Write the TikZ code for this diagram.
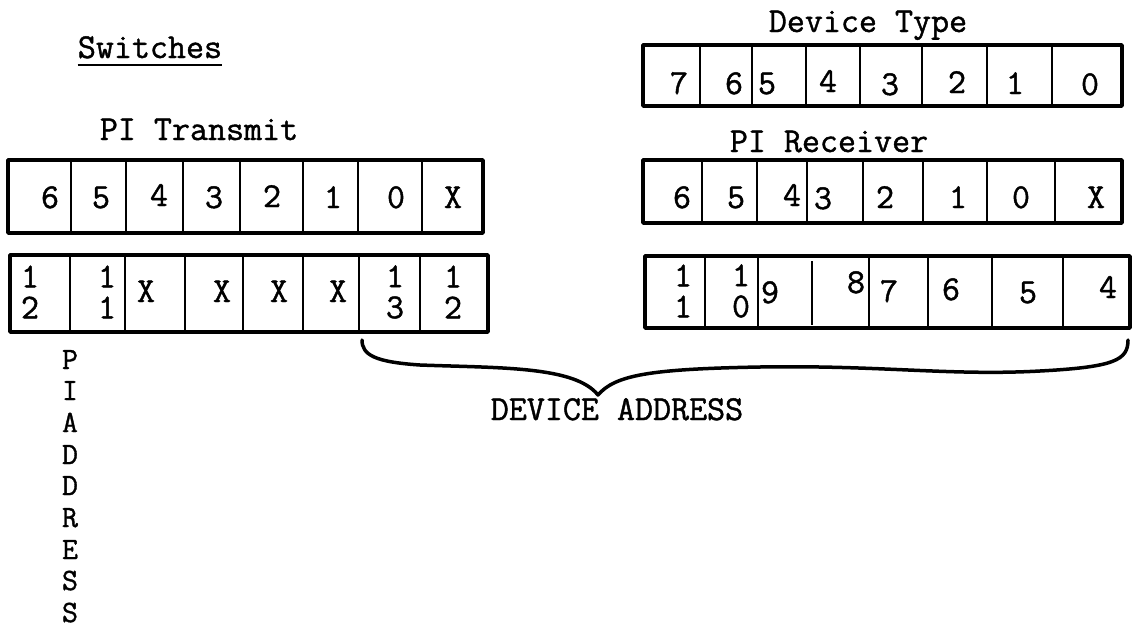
\documentclass[tikz,border=0pt]{standalone}
\usepackage{fontspec}
\newfontfamily\tw{Latin Modern Mono}[FakeBold=1.2]
\begin{document}
\begin{tikzpicture}[x=1pt,y=-1pt,
  frame/.style={draw, line width=3.5pt, inner sep=0pt, outer sep=0pt, line join=round},
  divider/.style={line width=2.6pt},
  lbl/.style={font=\fontsize{35}{40}\selectfont\tw, inner sep=0pt, anchor=base},
  stk/.style={font=\fontsize{35}{31}\selectfont\tw, inner sep=0pt, anchor=center, align=center},
  vlet/.style={font=\fontsize{31}{36}\selectfont\tw, inner sep=0pt, anchor=base},
  bracepath/.style={line width=3.5pt, line cap=round, line join=round}]

\useasboundingbox (0,0) rectangle (1132,627);

% titles
\node[lbl] (sw) at (150,58) {Switches};
\draw[line width=2pt] ([yshift=-7pt]sw.base west) -- ([yshift=-7pt]sw.base east);
\node[lbl] (pit) at (199,140) {PI Transmit};
\node[lbl] (dt) at (868,32) {Device Type};
\node[lbl] (pir) at (829,152) {PI Receiver};

% frames
\node[frame, minimum width=475pt, minimum height=73pt] (tx1) at (245.5,196.5) {};
\node[frame, minimum width=478pt, minimum height=77pt] (tx2) at (249,293.5) {};
\node[frame, minimum width=479pt, minimum height=61pt] (dtb) at (882.5,75.5) {};
\node[frame, minimum width=479pt, minimum height=63pt] (rx1) at (882.5,191.5) {};
\node[frame, minimum width=485pt, minimum height=72pt] (rx2) at (887.5,292) {};

% dividers
\foreach \x in {71,126,183,240,303,358,422} \draw[divider] (\x,160) -- (\x,233);
\foreach \x in {70,125,185,243,303,359,420} \draw[divider] (\x,255) -- (\x,332);
\foreach \x in {700,752,806,860,922,987,1052} \draw[divider] (\x,45) -- (\x,106);
\foreach \x in {702,757,807,863,923,987,1055} \draw[divider] (\x,160) -- (\x,223);
\foreach \x in {705,758,869,928,992,1063} \draw[divider] (\x,256) -- (\x,328);
\draw[divider] (812,261) -- (812,325);

% PI Transmit digits
\node[lbl] (t6) at (50,208) {6};
\node[lbl] (t5) at (101,208) {5};
\node[lbl] (t4) at (159,206) {4};
\node[lbl] (t3) at (214,208) {3};
\node[lbl] (t2) at (272,207) {2};
\node[lbl] (t1) at (333,208) {1};
\node[lbl] (t0) at (396,208) {0};
\node[lbl] (tx) at (453,208) {X};

% PI address row
\node[stk] (a12) at (30,292) {1\\2};
\node[stk] (a11) at (107,292) {1\\1};
\node[lbl] (ax1) at (146,302) {X};
\node[lbl] (ax2) at (222,302) {X};
\node[lbl] (ax3) at (279,302) {X};
\node[lbl] (ax4) at (338,302) {X};
\node[stk] (d13) at (395,292) {1\\3};
\node[stk] (d12) at (453,292) {1\\2};

% Device Type digits
\node[lbl] (y7) at (679,94) {7};
\node[lbl] (y6) at (734,94) {6};
\node[lbl] (y5) at (767,94) {5};
\node[lbl] (y4) at (828,92) {4};
\node[lbl] (y3) at (890,95) {3};
\node[lbl] (y2) at (957,93) {2};
\node[lbl] (y1) at (1015,94) {1};
\node[lbl] (y0) at (1090,95) {0};

% PI Receiver digits
\node[lbl] (r6) at (682,208) {6};
\node[lbl] (r5) at (736,208) {5};
\node[lbl] (r4) at (792,206) {4};
\node[lbl] (r3) at (823,209) {3};
\node[lbl] (r2) at (885,208) {2};
\node[lbl] (r1) at (958,208) {1};
\node[lbl] (r0) at (1021,208) {0};
\node[lbl] (rx) at (1096,208) {X};

% Device address row (right)
\node[stk] (e11) at (683,291) {1\\1};
\node[stk] (e10) at (741,291) {1\\0};
\node[lbl] (e9) at (770,303) {9};
\node[lbl] (e8) at (856,293) {8};
\node[lbl] (e7) at (889,302) {7};
\node[lbl] (e6) at (951,300) {6};
\node[lbl] (e5) at (1028,303) {5};
\node[lbl] (e4) at (1108,298) {4};

% brace
\coordinate (bl) at (362,340);
\coordinate (br) at (1128,340);
\coordinate (btip) at (598,395);
\draw[bracepath] (bl) .. controls (362,355) and (375,362) .. (420,365)
  .. controls (500,368) and (575,366) .. (btip)
  .. controls (615,375) and (650,369) .. (760,367)
  .. controls (880,365) and (950,376) .. (1040,371)
  .. controls (1115,367) and (1128,360) .. (br);
\node[lbl] (da) at (617,420) {DEVICE ADDRESS};

% vertical PI ADDRESS
\node[vlet] (vP) at (70,369) {P};
\node[vlet] (vI) at (70,400) {I};
\node[vlet] (vA) at (70,432) {A};
\node[vlet] (vD1) at (70,464) {D};
\node[vlet] (vD2) at (70,495) {D};
\node[vlet] (vR) at (70,527) {R};
\node[vlet] (vE) at (70,559) {E};
\node[vlet] (vS1) at (70,590) {S};
\node[vlet] (vS2) at (70,622) {S};
\end{tikzpicture}
\end{document}
